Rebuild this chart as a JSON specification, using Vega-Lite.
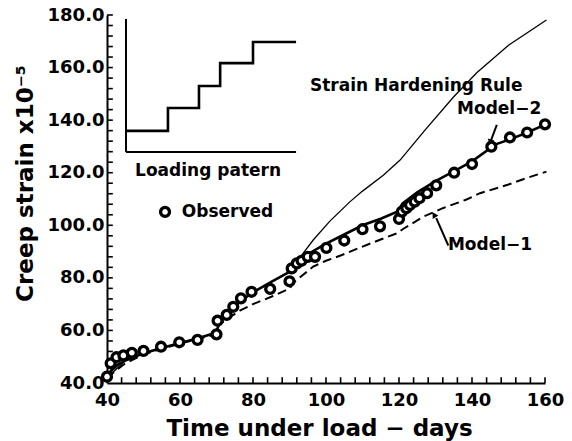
{
  "$schema": "https://vega.github.io/schema/vega-lite/v6.json",
  "width": 438,
  "height": 368,
  "autosize": {"type": "none"},
  "padding": {"left": 107, "top": 15, "right": 27, "bottom": 58},
  "background": "white",
  "config": {
    "view": {"stroke": null},
    "font": "DejaVu Sans"
  },
  "datasets": {
    "curves": [
      {"series": "Model-2", "day": 40, "strain": 42},
      {"series": "Model-2", "day": 41, "strain": 44.5},
      {"series": "Model-2", "day": 43, "strain": 47},
      {"series": "Model-2", "day": 45, "strain": 48.5},
      {"series": "Model-2", "day": 50, "strain": 51.3},
      {"series": "Model-2", "day": 55, "strain": 53.3},
      {"series": "Model-2", "day": 60, "strain": 55.2},
      {"series": "Model-2", "day": 65, "strain": 57},
      {"series": "Model-2", "day": 70, "strain": 59.2},
      {"series": "Model-2", "day": 70.6, "strain": 62.5},
      {"series": "Model-2", "day": 73, "strain": 66},
      {"series": "Model-2", "day": 76, "strain": 70.5},
      {"series": "Model-2", "day": 80, "strain": 74.5},
      {"series": "Model-2", "day": 85, "strain": 78.5},
      {"series": "Model-2", "day": 90, "strain": 82.3},
      {"series": "Model-2", "day": 91, "strain": 84.5},
      {"series": "Model-2", "day": 95, "strain": 89},
      {"series": "Model-2", "day": 100, "strain": 93},
      {"series": "Model-2", "day": 105, "strain": 96.5},
      {"series": "Model-2", "day": 110, "strain": 100},
      {"series": "Model-2", "day": 115, "strain": 102.5},
      {"series": "Model-2", "day": 119.5, "strain": 105.2},
      {"series": "Model-2", "day": 121, "strain": 108.3},
      {"series": "Model-2", "day": 125, "strain": 112.5},
      {"series": "Model-2", "day": 130, "strain": 116.8},
      {"series": "Model-2", "day": 135, "strain": 120.5},
      {"series": "Model-2", "day": 140, "strain": 124.3},
      {"series": "Model-2", "day": 144.5, "strain": 128.8},
      {"series": "Model-2", "day": 145.5, "strain": 130.3},
      {"series": "Model-2", "day": 150, "strain": 132.5},
      {"series": "Model-2", "day": 155, "strain": 135.2},
      {"series": "Model-2", "day": 160, "strain": 138.3},
      {"series": "Strain Hardening", "day": 40, "strain": 42},
      {"series": "Strain Hardening", "day": 45, "strain": 48.5},
      {"series": "Strain Hardening", "day": 50, "strain": 51.3},
      {"series": "Strain Hardening", "day": 60, "strain": 55.2},
      {"series": "Strain Hardening", "day": 70, "strain": 59.2},
      {"series": "Strain Hardening", "day": 70.6, "strain": 62.5},
      {"series": "Strain Hardening", "day": 76, "strain": 70.5},
      {"series": "Strain Hardening", "day": 80, "strain": 74.5},
      {"series": "Strain Hardening", "day": 90, "strain": 82.3},
      {"series": "Strain Hardening", "day": 93, "strain": 88},
      {"series": "Strain Hardening", "day": 96.5, "strain": 94.4},
      {"series": "Strain Hardening", "day": 101, "strain": 101.5},
      {"series": "Strain Hardening", "day": 106.6, "strain": 109},
      {"series": "Strain Hardening", "day": 110, "strain": 113},
      {"series": "Strain Hardening", "day": 115.7, "strain": 119},
      {"series": "Strain Hardening", "day": 120.3, "strain": 124.8},
      {"series": "Strain Hardening", "day": 127, "strain": 136},
      {"series": "Strain Hardening", "day": 135, "strain": 148.9},
      {"series": "Strain Hardening", "day": 141.3, "strain": 158},
      {"series": "Strain Hardening", "day": 150, "strain": 168.5},
      {"series": "Strain Hardening", "day": 160.4, "strain": 178.1},
      {"series": "Model-1", "day": 40, "strain": 42},
      {"series": "Model-1", "day": 45, "strain": 47.5},
      {"series": "Model-1", "day": 50, "strain": 50.8},
      {"series": "Model-1", "day": 55, "strain": 53},
      {"series": "Model-1", "day": 60, "strain": 55},
      {"series": "Model-1", "day": 65, "strain": 56.8},
      {"series": "Model-1", "day": 70, "strain": 58.5},
      {"series": "Model-1", "day": 70.6, "strain": 62},
      {"series": "Model-1", "day": 73, "strain": 64.5},
      {"series": "Model-1", "day": 76.4, "strain": 67.5},
      {"series": "Model-1", "day": 80, "strain": 70},
      {"series": "Model-1", "day": 85, "strain": 72.8},
      {"series": "Model-1", "day": 90.1, "strain": 76},
      {"series": "Model-1", "day": 91, "strain": 78},
      {"series": "Model-1", "day": 92, "strain": 79.2},
      {"series": "Model-1", "day": 96.5, "strain": 84.3},
      {"series": "Model-1", "day": 100, "strain": 86.5},
      {"series": "Model-1", "day": 104, "strain": 88.5},
      {"series": "Model-1", "day": 108.4, "strain": 91},
      {"series": "Model-1", "day": 114.8, "strain": 94.5},
      {"series": "Model-1", "day": 119.5, "strain": 97},
      {"series": "Model-1", "day": 121, "strain": 98.5},
      {"series": "Model-1", "day": 126.7, "strain": 103.3},
      {"series": "Model-1", "day": 132, "strain": 106.5},
      {"series": "Model-1", "day": 138.5, "strain": 109.8},
      {"series": "Model-1", "day": 142.2, "strain": 112.2},
      {"series": "Model-1", "day": 150, "strain": 115.5},
      {"series": "Model-1", "day": 155, "strain": 118},
      {"series": "Model-1", "day": 160.4, "strain": 120.4}
    ],
    "observed": [
      {"day": 40, "strain": 42.4}, {"day": 41, "strain": 47.5}, {"day": 42.6, "strain": 49.8},
      {"day": 44.5, "strain": 50.5}, {"day": 46.8, "strain": 51.5}, {"day": 50, "strain": 52.2},
      {"day": 54.8, "strain": 53.8}, {"day": 59.8, "strain": 55.5}, {"day": 64.8, "strain": 56.4},
      {"day": 70, "strain": 58.5}, {"day": 70.3, "strain": 63.7}, {"day": 72.8, "strain": 65.9},
      {"day": 74.6, "strain": 69}, {"day": 76.7, "strain": 72.2}, {"day": 79.6, "strain": 74.7},
      {"day": 84.7, "strain": 75.8}, {"day": 90, "strain": 78.7}, {"day": 90.6, "strain": 83.6},
      {"day": 92, "strain": 85.5}, {"day": 93.3, "strain": 86.5}, {"day": 95, "strain": 88},
      {"day": 97, "strain": 88}, {"day": 100.1, "strain": 91.4}, {"day": 105, "strain": 94.2},
      {"day": 110, "strain": 98.5}, {"day": 114.8, "strain": 99.6}, {"day": 120, "strain": 102.4},
      {"day": 120.8, "strain": 105.2}, {"day": 122, "strain": 106.5}, {"day": 123, "strain": 107.7},
      {"day": 124.3, "strain": 109}, {"day": 125.6, "strain": 110.3}, {"day": 127.7, "strain": 112.2},
      {"day": 130.2, "strain": 115.2}, {"day": 135.1, "strain": 120}, {"day": 140, "strain": 123.3},
      {"day": 145.3, "strain": 129.9}, {"day": 150.4, "strain": 133.4}, {"day": 155.1, "strain": 135.3},
      {"day": 160, "strain": 138.4}
    ],
    "loading": [
      {"day": 45.2, "load": 135.9}, {"day": 56.7, "load": 144.6}, {"day": 65.2, "load": 153.0},
      {"day": 71.0, "load": 161.7}, {"day": 80.0, "load": 169.7}, {"day": 91.8, "load": 169.7}
    ],
    "insetAxes": [
      {"x1": 45.2, "x2": 45.2, "y1": 178.5, "y2": 127.9},
      {"x1": 45.2, "x2": 91.8, "y1": 127.9, "y2": 127.9}
    ],
    "labels": [
      {"text": "Strain Hardening Rule", "day": 95.6, "strain": 153.0},
      {"text": "Model−2", "day": 135.9, "strain": 144.4},
      {"text": "Model−1", "day": 133.4, "strain": 92.5},
      {"text": "Loading patern", "day": 47.7, "strain": 120.7},
      {"text": "Observed", "day": 60.5, "strain": 105.1}
    ],
    "arrows": [
      {"x1": 146.8, "y1": 138.2, "x2": 145.2, "y2": 132.3},
      {"x1": 133.5, "y1": 92.3, "x2": 130.2, "y2": 102.7}
    ],
    "heads": [
      {"day": 145.0, "strain": 131.6, "shape": "triangle-down", "angle": 18},
      {"day": 129.6, "strain": 104.0, "shape": "triangle-up", "angle": -32}
    ],
    "legendSymbol": [{"day": 55.9, "strain": 105.1}],
    "xticks": [
      {"v": 44}, {"v": 48}, {"v": 52}, {"v": 56}, {"v": 60}, {"v": 64}, {"v": 68}, {"v": 72}, {"v": 76}, {"v": 80},
      {"v": 84}, {"v": 88}, {"v": 92}, {"v": 96}, {"v": 100}, {"v": 104}, {"v": 108}, {"v": 112}, {"v": 116}, {"v": 120},
      {"v": 124}, {"v": 128}, {"v": 132}, {"v": 136}, {"v": 140}, {"v": 144}, {"v": 148}, {"v": 152}, {"v": 156}, {"v": 160}
    ],
    "yticks": [
      {"v": 44}, {"v": 48}, {"v": 52}, {"v": 56}, {"v": 60}, {"v": 64}, {"v": 68}, {"v": 72}, {"v": 76}, {"v": 80},
      {"v": 84}, {"v": 88}, {"v": 92}, {"v": 96}, {"v": 100}, {"v": 104}, {"v": 108}, {"v": 112}, {"v": 116}, {"v": 120},
      {"v": 124}, {"v": 128}, {"v": 132}, {"v": 136}, {"v": 140}, {"v": 144}, {"v": 148}, {"v": 152}, {"v": 156}, {"v": 160},
      {"v": 164}, {"v": 168}, {"v": 172}, {"v": 176}, {"v": 180}
    ]
  },
  "layer": [
    {
      "data": {"name": "curves"},
      "transform": [{"filter": "datum.series === 'Strain Hardening'"}],
      "mark": {"type": "line", "color": "black", "strokeWidth": 1.3},
      "encoding": {
        "x": {"field": "day", "type": "quantitative",
          "scale": {"domain": [40, 160], "nice": false, "zero": false},
          "axis": {"title": "Time under load  −  days", "orient": "bottom",
            "values": [40,60,80,100,120,140,160], "tickCount": 200, "format": "d",
            "labelOverlap": false, "labelFlush": false, "labelBound": false,
            "ticks": false, "domainColor": "black", "domainWidth": 2, "grid": false,
            "labelFont": "DejaVu Sans", "labelFontWeight": "bold", "labelFontSize": 18, "labelColor": "black",
            "labelPadding": 8,
            "titleFont": "DejaVu Sans", "titleFontWeight": "bold", "titleFontSize": 23, "titleColor": "black",
            "titleX": 212, "titleY": 45, "titleAlign": "center", "titleBaseline": "middle"}},
        "y": {"field": "strain", "type": "quantitative",
          "scale": {"domain": [40, 180], "nice": false, "zero": false},
          "axis": {"title": "Creep strain x10⁻⁵", "orient": "left",
            "values": [40,60,80,100,120,140,160,180], "tickCount": 200, "format": ".1f",
            "labelOverlap": false, "labelFlush": false, "labelBound": false,
            "ticks": false, "domainColor": "black", "domainWidth": 2, "grid": false,
            "labelFont": "DejaVu Sans", "labelFontWeight": "bold", "labelFontSize": 18, "labelColor": "black",
            "labelPadding": 3,
            "titleFont": "DejaVu Sans", "titleFontWeight": "bold", "titleFontSize": 23, "titleColor": "black",
            "titleX": -82, "titleY": 168, "titleAlign": "center", "titleBaseline": "middle"}}
      }
    },
    {
      "data": {"name": "xticks"},
      "mark": {"type": "rule", "color": "black", "strokeWidth": 1.6},
      "encoding": {
        "x": {"field": "v", "type": "quantitative"},
        "y": {"datum": 40},
        "y2": {"datum": 42.2}
      }
    },
    {
      "data": {"name": "yticks"},
      "mark": {"type": "rule", "color": "black", "strokeWidth": 1.6},
      "encoding": {
        "y": {"field": "v", "type": "quantitative"},
        "x": {"datum": 40},
        "x2": {"datum": 41.6}
      }
    },
    {
      "data": {"name": "curves"},
      "transform": [{"filter": "datum.series === 'Model-1'"}],
      "mark": {"type": "line", "color": "black", "strokeWidth": 2, "strokeDash": [9, 5]},
      "encoding": {
        "x": {"field": "day", "type": "quantitative"},
        "y": {"field": "strain", "type": "quantitative"}
      }
    },
    {
      "data": {"name": "curves"},
      "transform": [{"filter": "datum.series === 'Model-2'"}],
      "mark": {"type": "line", "color": "black", "strokeWidth": 2.6},
      "encoding": {
        "x": {"field": "day", "type": "quantitative"},
        "y": {"field": "strain", "type": "quantitative"}
      }
    },
    {
      "data": {"name": "observed"},
      "mark": {"type": "point", "shape": "circle", "size": 80, "filled": false, "fill": "white", "fillOpacity": 1, "stroke": "black", "strokeWidth": 3.3, "opacity": 1},
      "encoding": {
        "x": {"field": "day", "type": "quantitative"},
        "y": {"field": "strain", "type": "quantitative"}
      }
    },
    {
      "data": {"name": "legendSymbol"},
      "mark": {"type": "point", "shape": "circle", "size": 80, "filled": false, "fill": "white", "fillOpacity": 1, "stroke": "black", "strokeWidth": 3.3, "opacity": 1},
      "encoding": {
        "x": {"field": "day", "type": "quantitative"},
        "y": {"field": "strain", "type": "quantitative"}
      }
    },
    {
      "data": {"name": "insetAxes"},
      "mark": {"type": "rule", "color": "black", "strokeWidth": 2},
      "encoding": {
        "x": {"field": "x1", "type": "quantitative"},
        "x2": {"field": "x2"},
        "y": {"field": "y1", "type": "quantitative"},
        "y2": {"field": "y2"}
      }
    },
    {
      "data": {"name": "loading"},
      "mark": {"type": "line", "color": "black", "strokeWidth": 2.6, "interpolate": "step-after"},
      "encoding": {
        "x": {"field": "day", "type": "quantitative"},
        "y": {"field": "load", "type": "quantitative"}
      }
    },
    {
      "data": {"name": "arrows"},
      "mark": {"type": "rule", "color": "black", "strokeWidth": 2},
      "encoding": {
        "x": {"field": "x1", "type": "quantitative"},
        "x2": {"field": "x2"},
        "y": {"field": "y1", "type": "quantitative"},
        "y2": {"field": "y2"}
      }
    },
    {
      "data": {"name": "heads"},
      "mark": {"type": "point", "filled": true, "color": "black", "size": 45, "opacity": 1},
      "encoding": {
        "x": {"field": "day", "type": "quantitative"},
        "y": {"field": "strain", "type": "quantitative"},
        "shape": {"field": "shape", "type": "nominal", "scale": null},
        "angle": {"field": "angle", "type": "quantitative", "scale": null}
      }
    },
    {
      "data": {"name": "labels"},
      "mark": {"type": "text", "align": "left", "baseline": "middle", "font": "DejaVu Sans", "fontWeight": "bold", "fontSize": 17, "color": "black"},
      "encoding": {
        "x": {"field": "day", "type": "quantitative"},
        "y": {"field": "strain", "type": "quantitative"},
        "text": {"field": "text"}
      }
    }
  ]
}
